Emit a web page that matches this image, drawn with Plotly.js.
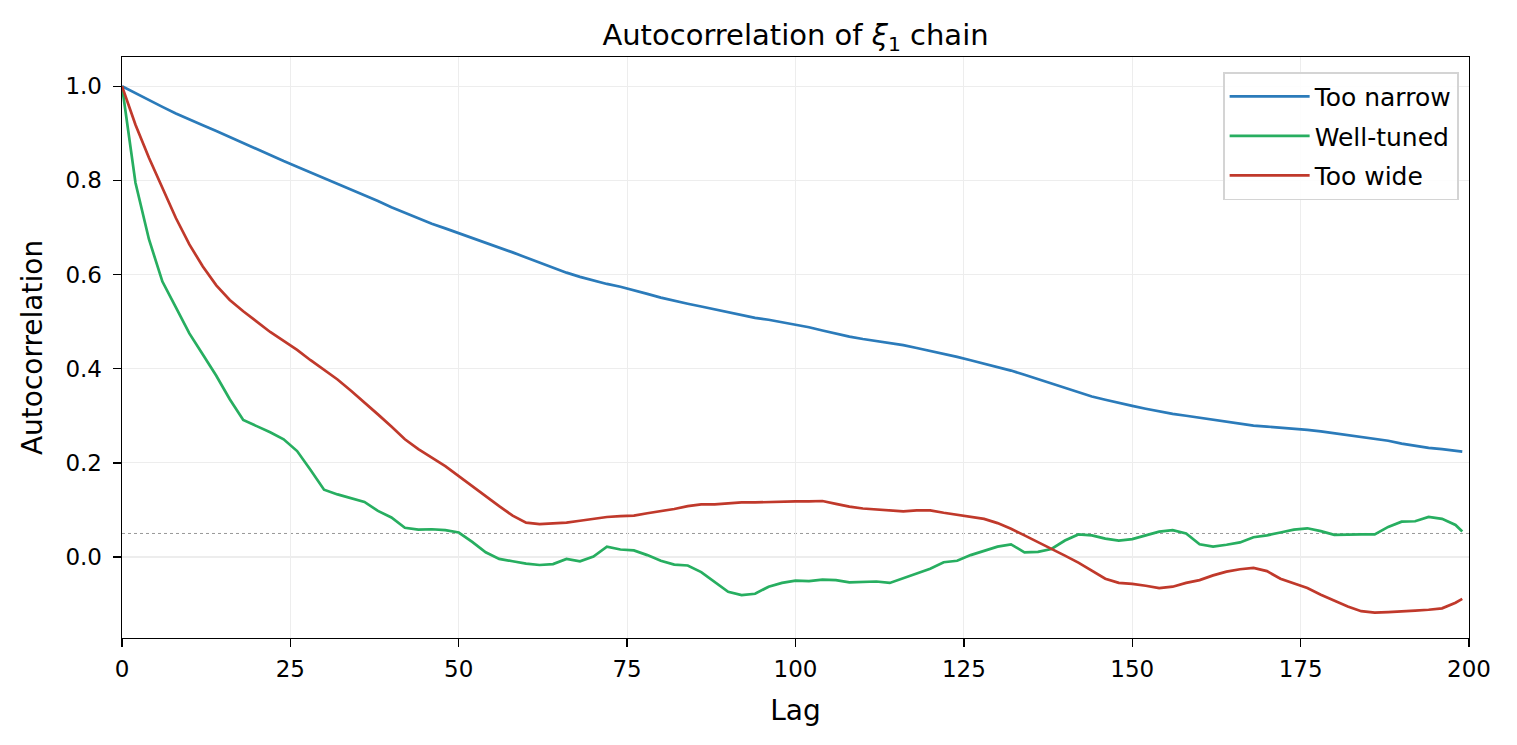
<!DOCTYPE html>
<html>
<head>
<meta charset="utf-8">
<script src="https://cdn.plot.ly/plotly-3.0.1.min.js"></script>
<style>html,body{margin:0;padding:0;background:#fff;}#chart{width:1517px;height:745px;}</style>
</head>
<body>
<div id="chart"></div>
<script>
// Lags sampled every 2 from 0 to 198, plus 199
const lags = [];
for (let k = 0; k <= 198; k += 2) lags.push(k);
lags.push(199);

const tooNarrow = [
1.000,0.985,0.970,0.956,0.942,0.929,0.917,0.905,0.892,0.879,
0.866,0.853,0.841,0.829,0.817,0.805,0.793,0.781,0.769,0.756,
0.743,0.731,0.719,0.708,0.698,0.688,0.678,0.668,0.658,0.647,
0.636,0.625,0.615,0.604,0.595,0.587,0.580,0.574,0.567,0.559,
0.551,0.544,0.538,0.532,0.526,0.520,0.514,0.508,0.504,0.499,
0.494,0.488,0.481,0.474,0.468,0.463,0.459,0.455,0.450,0.444,
0.438,0.432,0.425,0.418,0.411,0.404,0.396,0.387,0.378,0.369,
0.360,0.351,0.341,0.334,0.327,0.321,0.315,0.309,0.304,0.300,
0.296,0.291,0.287,0.283,0.279,0.277,0.275,0.273,0.270,0.267,
0.263,0.259,0.256,0.252,0.247,0.241,0.236,0.232,0.229,0.226,
0.224];

const wellTuned = [
1.000,0.795,0.675,0.585,0.530,0.475,0.430,0.385,0.335,0.291,
0.278,0.265,0.250,0.225,0.185,0.143,0.133,0.125,0.117,0.098,
0.084,0.062,0.058,0.059,0.057,0.052,0.032,0.010,-0.004,-0.009,
-0.014,-0.017,-0.015,-0.004,-0.009,0.001,0.022,0.016,0.014,0.004,
-0.008,-0.016,-0.018,-0.032,-0.053,-0.074,-0.081,-0.078,-0.063,-0.055,
-0.050,-0.051,-0.048,-0.049,-0.054,-0.053,-0.052,-0.055,-0.045,-0.036,
-0.025,-0.011,-0.008,0.004,0.013,0.022,0.027,0.010,0.011,0.017,
0.035,0.048,0.046,0.039,0.035,0.038,0.046,0.054,0.057,0.050,
0.027,0.022,0.026,0.031,0.042,0.046,0.052,0.058,0.061,0.055,
0.047,0.048,0.048,0.048,0.064,0.075,0.076,0.085,0.081,0.068,
0.054];

const tooWide = [
1.000,0.918,0.848,0.784,0.720,0.664,0.617,0.577,0.546,0.522,
0.500,0.478,0.459,0.440,0.418,0.398,0.377,0.353,0.329,0.303,
0.277,0.250,0.229,0.211,0.193,0.172,0.150,0.128,0.108,0.088,
0.073,0.070,0.071,0.073,0.077,0.081,0.085,0.087,0.088,0.093,
0.097,0.102,0.108,0.112,0.112,0.114,0.116,0.116,0.117,0.118,
0.118,0.118,0.119,0.113,0.107,0.103,0.101,0.099,0.097,0.099,
0.099,0.094,0.090,0.086,0.081,0.072,0.060,0.046,0.032,0.018,
0.003,-0.012,-0.029,-0.046,-0.055,-0.057,-0.061,-0.066,-0.063,-0.055,
-0.049,-0.039,-0.031,-0.026,-0.023,-0.030,-0.046,-0.056,-0.066,-0.080,
-0.093,-0.105,-0.115,-0.118,-0.117,-0.116,-0.114,-0.112,-0.109,-0.097,
-0.089];

const seriesNames = ["Too narrow", "Well-tuned", "Too wide"];
const seriesColors = ["#2b7bba", "#27ae60", "#c0392b"];
const seriesValues = [tooNarrow, wellTuned, tooWide];

const xTicks = [0, 25, 50, 75, 100, 125, 150, 175, 200];
const yTicks = [0.0, 0.2, 0.4, 0.6, 0.8, 1.0];
const threshold = 0.05;

const traces = seriesNames.map((name, i) => ({
  type: "scatter", mode: "lines", name: name, legendgroup: "g" + i,
  x: lags, y: seriesValues[i],
  line: {color: seriesColors[i], width: 2.7}
}));

const axisCommon = {
  ticks: "outside", ticklen: 8, tickwidth: 1.3, tickcolor: "#000",
  showline: true, linecolor: "#000", linewidth: 1.4, mirror: true,
  showgrid: true, gridcolor: "#ededed", gridwidth: 1.2, zeroline: false,
  tickfont: {size: 23}, automargin: false
};

const layout = {
  width: 1517, height: 745,
  margin: {l: 122, r: 48, t: 57, b: 107},
  paper_bgcolor: "#ffffff", plot_bgcolor: "#ffffff",
  font: {family: "DejaVu Sans, sans-serif", color: "#000", size: 23},
  title: {text: "Autocorrelation of <i>ξ</i><sub>1</sub> chain", font: {size: 29}, xref: "paper", x: 0.5, xanchor: "center", y: 0.953, yanchor: "middle"},
  xaxis: Object.assign({}, axisCommon, {
    title: {text: "Lag", font: {size: 28}, standoff: 19},
    ticklabelstandoff: 2,
    range: [0, 200], tickvals: xTicks, ticktext: xTicks.map(String)
  }),
  yaxis: Object.assign({}, axisCommon, {
    title: {text: "Autocorrelation", font: {size: 28}, standoff: 14},
    ticklabelstandoff: 6,
    range: [-0.172, 1.062], tickvals: yTicks, ticktext: yTicks.map(v => v.toFixed(1))
  }),
  shapes: [
    {type: "line", xref: "paper", x0: 0, x1: 1, yref: "y", y0: 0, y1: 0, line: {color: "#888", width: 1.2}, layer: "below"},
    {type: "line", xref: "paper", x0: 0, x1: 1, yref: "y", y0: threshold, y1: threshold, line: {color: "#999", width: 1, dash: "dot"}, layer: "below"}
  ],
  legend: {
    x: 0.9926, y: 0.974, xanchor: "right", yanchor: "top",
    bgcolor: "rgba(255,255,255,0.85)", bordercolor: "#d4d4d4", borderwidth: 1.6,
    font: {size: 25}, itemwidth: 80, tracegroupgap: 4, traceorder: "grouped"
  },
  showlegend: true
};

Plotly.newPlot("chart", traces, layout, {displayModeBar: false, staticPlot: true});
</script>
</body>
</html>
